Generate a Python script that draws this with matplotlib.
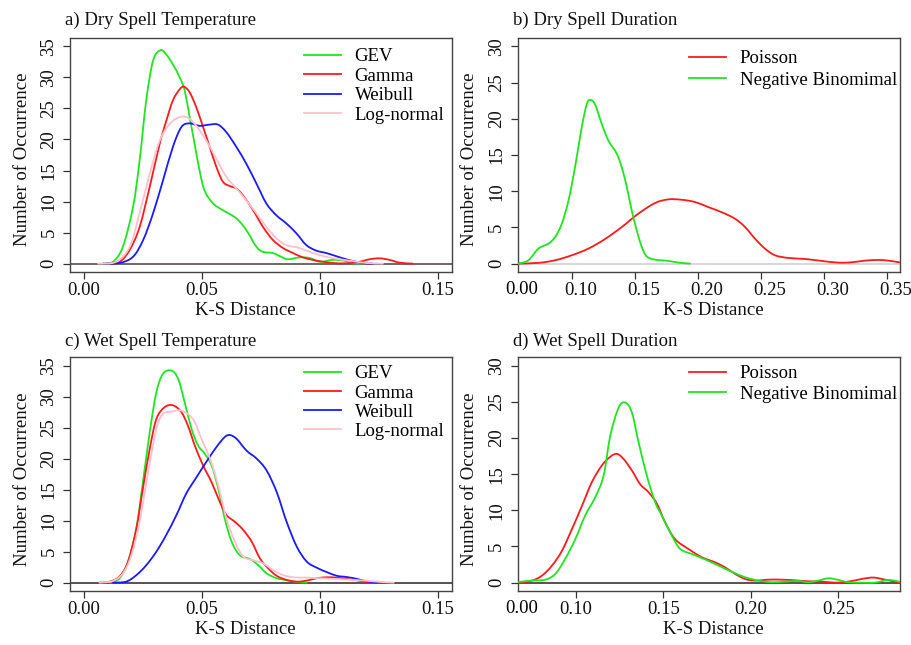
import matplotlib
matplotlib.use('Agg')
import matplotlib.pyplot as plt
import matplotlib.transforms as mtransforms
from matplotlib.path import Path
from matplotlib.patches import PathPatch
from matplotlib.lines import Line2D

plt.rcParams['font.family'] = ['Liberation Serif', 'DejaVu Serif']
FS = 13.5

GREEN = '#1ee61e'
RED = '#ff1a1a'
BLUE = '#1a1aff'
PINK = '#ffc0cb'

# ---------------- a) Dry Spell Temperature ----------------
a_gev_x = [0.008, 0.0122, 0.0164, 0.0207, 0.0235, 0.0263, 0.0292, 0.0324, 0.0348, 0.0376, 0.0405, 0.0426,
           0.0447, 0.0468, 0.0489, 0.051, 0.0546, 0.0588, 0.0645, 0.0687, 0.073, 0.0758, 0.08, 0.0835,
           0.0864, 0.0913, 0.0956, 0.0998, 0.1054, 0.1097, 0.1139, 0.1174]
a_gev_y = [0, 0.3, 2.7, 9.1, 16.6, 26.3, 32.7, 34.4, 33.7, 32.1, 30.0, 27.9,
           23.6, 19.3, 15.0, 11.8, 9.7, 8.6, 7.3, 5.4, 2.7, 1.9, 1.7, 1.1,
           0.7, 1.0, 0.9, 0.3, 0.6, 0.5, 0.05, 0]
a_gam_x = [0.0094, 0.015, 0.0193, 0.0235, 0.0278, 0.032, 0.0348, 0.0376, 0.0405, 0.0423, 0.0447, 0.0475,
           0.0504, 0.0532, 0.056, 0.0588, 0.0617, 0.0645, 0.0673, 0.0716, 0.0758, 0.08, 0.0843, 0.0885,
           0.0927, 0.097, 0.1012, 0.1054, 0.111, 0.1167, 0.121, 0.1252, 0.1294, 0.1337, 0.1393]
a_gam_y = [0, 0.3, 2.2, 5.9, 12.4, 19.3, 23.0, 26.3, 28.1, 28.5, 27.6, 25.2,
           22.0, 18.8, 15.6, 13.2, 12.5, 12.1, 11.0, 8.6, 5.9, 3.8, 2.5, 1.7,
           1.0, 0.6, 0.3, 0.1, 0.05, 0.3, 0.7, 0.85, 0.6, 0.15, 0]
a_wei_x = [0.008, 0.015, 0.0207, 0.025, 0.0292, 0.0334, 0.0376, 0.0412, 0.0447, 0.0489, 0.0532, 0.0567,
           0.0602, 0.0645, 0.0687, 0.073, 0.0772, 0.0814, 0.0856, 0.0899, 0.0941, 0.0983, 0.1026, 0.1068,
           0.111, 0.1153, 0.1195, 0.1223]
a_wei_y = [0, 0.1, 1.1, 3.8, 8.1, 13.4, 18.8, 22.0, 22.6, 22.2, 22.4, 22.4,
           21.2, 18.8, 16.1, 12.9, 9.7, 7.8, 6.5, 4.9, 3.0, 2.1, 1.7, 1.2,
           0.7, 0.3, 0.05, 0]
a_log_x = [0.0059, 0.0136, 0.0193, 0.0235, 0.0278, 0.032, 0.0362, 0.0405, 0.044, 0.0475, 0.0518, 0.056,
           0.0602, 0.0645, 0.0687, 0.073, 0.0772, 0.0814, 0.0856, 0.0913, 0.097, 0.1026, 0.1082, 0.1139,
           0.1195, 0.1266]
a_log_y = [0, 0.3, 2.7, 8.1, 14.5, 19.8, 22.5, 23.6, 23.5, 22.2, 19.8, 16.9,
           14.0, 12.1, 10.2, 8.1, 5.9, 4.1, 3.0, 2.5, 1.7, 1.1, 0.7, 0.4,
           0.1, 0]

# ---------------- b) Dry Spell Duration ----------------
b_poi_x = [0.0577, 0.0735, 0.0868, 0.10, 0.1132, 0.1265, 0.1397, 0.1529, 0.1661, 0.1767, 0.1873, 0.1979,
           0.2085, 0.219, 0.2296, 0.2376, 0.2455, 0.2534, 0.2614, 0.272, 0.2852, 0.2984, 0.3116, 0.3222,
           0.3328, 0.3434, 0.3513, 0.3600]
b_poi_y = [0, 0.1, 0.46, 1.15, 2.07, 3.4, 5.05, 6.9, 8.36, 8.87, 8.82, 8.5,
           7.8, 7.1, 6.2, 5.05, 3.44, 2.07, 1.15, 0.78, 0.64, 0.37, 0.14, 0.18,
           0.41, 0.5, 0.41, 0.18]
b_nb_x = [0.0577, 0.0656, 0.0735, 0.0815, 0.0868, 0.0921, 0.0974, 0.1026, 0.1079, 0.1119, 0.1146, 0.1185,
          0.1238, 0.1291, 0.1357, 0.1397, 0.1437, 0.1476, 0.1516, 0.1556, 0.1595, 0.1661, 0.1767, 0.1847,
          0.1939]
b_nb_y = [0, 0.46, 2.07, 2.76, 3.67, 5.5, 8.7, 13.3, 18.8, 22.0, 22.6, 22.0,
          19.3, 17.0, 15.2, 13.3, 10.6, 7.35, 4.6, 2.3, 1.0, 0.55, 0.37, 0.14,
          0]

# ---------------- c) Wet Spell Temperature ----------------
c_gev_x = [0.0108, 0.015, 0.0186, 0.0221, 0.0249, 0.0278, 0.0306, 0.0334, 0.037, 0.0398, 0.0426, 0.0455,
           0.0483, 0.0511, 0.054, 0.0568, 0.0596, 0.0625, 0.066, 0.0703, 0.0738, 0.0773, 0.0816, 0.0858,
           0.0901, 0.0943]
c_gev_y = [0, 0.7, 3.4, 8.7, 16.2, 24.3, 30.7, 33.7, 34.2, 32.9, 29.1, 24.8,
           22.1, 20.8, 18.9, 15.2, 10.3, 6.6, 4.4, 3.8, 2.8, 1.5, 0.7, 0.4,
           0.1, 0]
c_gam_x = [0.0065, 0.0108, 0.015, 0.0186, 0.0221, 0.0249, 0.0278, 0.0306, 0.0341, 0.0377, 0.0412, 0.044,
           0.0469, 0.0504, 0.054, 0.0575, 0.0603, 0.0639, 0.0674, 0.071, 0.0745, 0.078, 0.0816, 0.0858,
           0.0901, 0.0943, 0.0986, 0.1028, 0.1071, 0.1113, 0.1156, 0.1198, 0.1241]
c_gam_y = [0, 0.16, 1.0, 3.4, 8.7, 15.2, 21.6, 26.4, 28.3, 28.6, 27.5, 25.3,
           22.1, 18.9, 16.2, 13.0, 10.9, 9.8, 8.5, 6.6, 3.9, 2.3, 1.1, 0.43,
           0.16, 0.32, 0.7, 0.86, 0.8, 0.6, 0.37, 0.1, 0]
c_wei_x = [0.0122, 0.0178, 0.0221, 0.0263, 0.0306, 0.0348, 0.0391, 0.0433, 0.0476, 0.0518, 0.0561, 0.0596,
           0.0618, 0.0646, 0.0688, 0.0731, 0.0773, 0.0816, 0.0858, 0.0901, 0.0943, 0.0986, 0.1028, 0.1071,
           0.1113, 0.1156, 0.1198, 0.1241]
c_wei_y = [0, 0.16, 1.2, 2.8, 5.0, 7.7, 10.9, 14.4, 17.0, 19.5, 21.9, 23.5,
           23.8, 23.2, 21.3, 20.0, 18.1, 14.6, 9.8, 5.8, 3.4, 2.4, 1.7, 1.1,
           0.9, 0.6, 0.2, 0]
c_log_x = [0.0065, 0.0122, 0.0164, 0.02, 0.0235, 0.0271, 0.0306, 0.0334, 0.037, 0.0405, 0.044, 0.0469,
           0.0497, 0.0533, 0.0568, 0.0603, 0.0639, 0.0674, 0.0717, 0.0759, 0.0802, 0.0844, 0.0887, 0.0943,
           0.1, 0.1057, 0.1113, 0.117, 0.1227, 0.1283, 0.1312]
c_log_y = [0, 0.27, 1.5, 4.4, 9.8, 17.8, 24.8, 27.2, 27.6, 27.8, 27.2, 25.9,
           23.2, 20.0, 15.7, 10.3, 6.6, 4.2, 3.6, 3.1, 2.0, 1.2, 0.86, 0.8,
           0.7, 0.6, 0.5, 0.37, 0.2, 0.05, 0]

# ---------------- d) Wet Spell Duration ----------------
d_poi_x = [0.0673, 0.0749, 0.0806, 0.0863, 0.092, 0.0977, 0.1034, 0.1091, 0.1148, 0.1196, 0.1234, 0.1272,
           0.132, 0.1367, 0.1415, 0.1463, 0.151, 0.1567, 0.1643, 0.172, 0.1796, 0.1853, 0.191, 0.1967,
           0.2024, 0.21, 0.2176, 0.2253, 0.2329, 0.2405, 0.2481, 0.2557, 0.2633, 0.27, 0.2767, 0.2852]
d_poi_y = [0, 0.28, 0.97, 2.35, 4.4, 7.4, 10.6, 13.9, 16.2, 17.4, 17.8, 17.1,
           15.5, 13.6, 12.5, 10.9, 8.3, 6.0, 4.65, 3.5, 2.8, 2.1, 1.2, 0.5,
           0.28, 0.41, 0.41, 0.32, 0.18, 0.14, 0.0, 0.14, 0.5, 0.7, 0.41, 0]
d_nb_x = [0.0673, 0.0749, 0.0825, 0.0882, 0.0939, 0.0996, 0.1053, 0.111, 0.1158, 0.1196, 0.1244, 0.1282,
          0.132, 0.1358, 0.1405, 0.1453, 0.1501, 0.1548, 0.1596, 0.1662, 0.1739, 0.1815, 0.1891, 0.1967,
          0.2043, 0.2119, 0.2196, 0.2272, 0.2329, 0.2386, 0.2443, 0.25, 0.2557, 0.2633, 0.2709, 0.2786, 0.2852]
d_nb_y = [0.1, 0.28, 0.41, 1.2, 3.3, 6.0, 9.3, 11.8, 14.8, 20.3, 24.2, 24.9,
          23.5, 19.4, 14.8, 11.1, 8.8, 6.5, 4.65, 3.96, 3.2, 2.35, 1.5, 0.74,
          0.28, 0.05, 0.14, 0.23, 0.05, 0.28, 0.6, 0.37, 0.05, 0, 0, 0.37, 0.1]

titles = ['a) Dry Spell Temperature', 'b) Dry Spell Duration',
          'c) Wet Spell Temperature', 'd) Wet Spell Duration']
temp_labels = ['GEV', 'Gamma', 'Weibull', 'Log-normal']
dur_labels = ['Poisson', 'Negative Binomimal']
temp_xticks = [0.00, 0.05, 0.10, 0.15]
dur_b_xticks = [0.10, 0.15, 0.20, 0.25, 0.30, 0.35]
dur_d_xticks = [0.10, 0.15, 0.20, 0.25]
temp_yticks = [0, 5, 10, 15, 20, 25, 30, 35]
dur_yticks = [0, 5, 10, 15, 20, 25, 30]

W, H = 912, 645
fig = plt.figure(figsize=(W / 100, H / 100), dpi=100)


def box(l, r, t, b):
    return [l / W, 1 - b / H, (r - l) / W, (b - t) / H]


ax_a = fig.add_axes(box(70, 452.3, 37.7, 272.3))
ax_b = fig.add_axes(box(517.7, 900, 37.7, 272.3))
ax_c = fig.add_axes(box(70, 452.3, 357, 591.3))
ax_d = fig.add_axes(box(517.7, 900, 357, 591.3))

LW = 1.3


def smooth_curve(ax, xs, ys, color):
    """Draw a smooth curve through the read points (Catmull-Rom as cubic Bezier)."""
    n = len(xs)
    pts = list(zip(xs, ys))
    verts = [pts[0]]
    codes = [Path.MOVETO]
    for i in range(n - 1):
        p0 = pts[i - 1] if i > 0 else pts[i]
        p1 = pts[i]
        p2 = pts[i + 1]
        p3 = pts[i + 2] if i + 2 < n else pts[i + 1]
        c1 = (p1[0] + (p2[0] - p0[0]) / 6, p1[1] + (p2[1] - p0[1]) / 6)
        c2 = (p2[0] - (p3[0] - p1[0]) / 6, p2[1] - (p3[1] - p1[1]) / 6)
        verts += [c1, c2, p2]
        codes += [Path.CURVE4] * 3
    ax.add_patch(PathPatch(Path(verts, codes), fill=False, edgecolor=color, lw=LW,
                           zorder=3, capstyle='round', joinstyle='round'))
    return Line2D([], [], color=color, lw=LW)


def style(ax, title, xlabel_x, zero_color, title_y):
    for s in ax.spines.values():
        s.set_color('#444444')
        s.set_linewidth(1.0)
    ax.axhline(0, color=zero_color, lw=1.3, zorder=1)
    ax.tick_params(axis='both', direction='out', length=5, width=0.9, color='#333333',
                   labelsize=FS, labelcolor='#111111')
    ax.tick_params(axis='x', pad=2)
    ax.tick_params(axis='y', pad=4, labelrotation=90)
    for lab in ax.get_yticklabels():
        lab.set_va('center')
    ax.set_xlabel('K-S Distance', fontsize=FS, color='#111111')
    ax.xaxis.set_label_coords(xlabel_x, -0.127)
    ax.set_ylabel('Number of Occurrence', fontsize=FS, color='#111111', va='center')
    ax.yaxis.set_label_coords(-0.125, 0.48)
    ax.text(-0.013, title_y, title, transform=ax.transAxes, ha='left', va='baseline',
            fontsize=FS, color='#111111')


def legend(ax, handles, labels, x, y, spacing):
    ax.legend(handles, labels, loc='upper left', bbox_to_anchor=(x, y), frameon=False, fontsize=FS,
              handlelength=2.0, handletextpad=0.7, labelspacing=spacing,
              borderpad=0, borderaxespad=0)


# panel a
h_a = [smooth_curve(ax_a, a_gev_x, a_gev_y, GREEN), smooth_curve(ax_a, a_gam_x, a_gam_y, RED),
       smooth_curve(ax_a, a_wei_x, a_wei_y, BLUE), smooth_curve(ax_a, a_log_x, a_log_y, PINK)]
ax_a.set_xlim(-0.006, 0.156)
ax_a.set_ylim(-1.4, 36.4)
ax_a.set_xticks(temp_xticks, labels=[f'{v:.2f}' for v in temp_xticks])
ax_a.set_yticks(temp_yticks, labels=[str(v) for v in temp_yticks])
style(ax_a, titles[0], 0.458, '#665a5a', 1.054)
legend(ax_a, h_a, temp_labels, 0.612, 0.955, 0.12)

# panel b
h_b = [smooth_curve(ax_b, b_poi_x, b_poi_y, RED), smooth_curve(ax_b, b_nb_x, b_nb_y, GREEN)]
ax_b.set_xlim(0.0571, 0.3606)
ax_b.set_ylim(-1.2, 31.2)
ax_b.set_xticks(dur_b_xticks, labels=[f'{v:.2f}' for v in dur_b_xticks])
ax_b.set_xticks([0.0603], labels=['0.00'], minor=True)
ax_b.tick_params(axis='x', which='minor', length=0, labelsize=FS, pad=2 + 5 * 0.9)
ax_b.set_yticks(dur_yticks, labels=[str(v) for v in dur_yticks])
style(ax_b, titles[1], 0.511, '#d4d4d4', 1.054)
shift = mtransforms.ScaledTranslation(9 / 100, 0, fig.dpi_scale_trans)
for lab in ax_b.get_xticklabels():
    lab.set_transform(lab.get_transform() + shift)
legend(ax_b, h_b, dur_labels, 0.448, 0.947, 0.24)

# panel c
h_c = [smooth_curve(ax_c, c_gev_x, c_gev_y, GREEN), smooth_curve(ax_c, c_gam_x, c_gam_y, RED),
       smooth_curve(ax_c, c_wei_x, c_wei_y, BLUE), smooth_curve(ax_c, c_log_x, c_log_y, PINK)]
ax_c.set_xlim(-0.006, 0.156)
ax_c.set_ylim(-1.4, 36.4)
ax_c.set_xticks(temp_xticks, labels=[f'{v:.2f}' for v in temp_xticks])
ax_c.set_yticks(temp_yticks, labels=[str(v) for v in temp_yticks])
style(ax_c, titles[2], 0.458, '#4a4444', 1.047)
legend(ax_c, h_c, temp_labels, 0.612, 0.965, 0.11)

# panel d
h_d = [smooth_curve(ax_d, d_poi_x, d_poi_y, RED), smooth_curve(ax_d, d_nb_x, d_nb_y, GREEN)]
ax_d.set_xlim(0.0667, 0.2852)
ax_d.set_ylim(-1.2, 31.2)
ax_d.set_xticks(dur_d_xticks, labels=[f'{v:.2f}' for v in dur_d_xticks])
ax_d.set_xticks([0.069], labels=['0.00'], minor=True)
ax_d.tick_params(axis='x', which='minor', length=0, labelsize=FS, pad=2 + 5 * 0.9)
ax_d.set_yticks(dur_yticks, labels=[str(v) for v in dur_yticks])
style(ax_d, titles[3], 0.511, '#4a4444', 1.047)
legend(ax_d, h_d, dur_labels, 0.448, 0.965, 0.19)

fig.savefig('out.png', dpi=100)
